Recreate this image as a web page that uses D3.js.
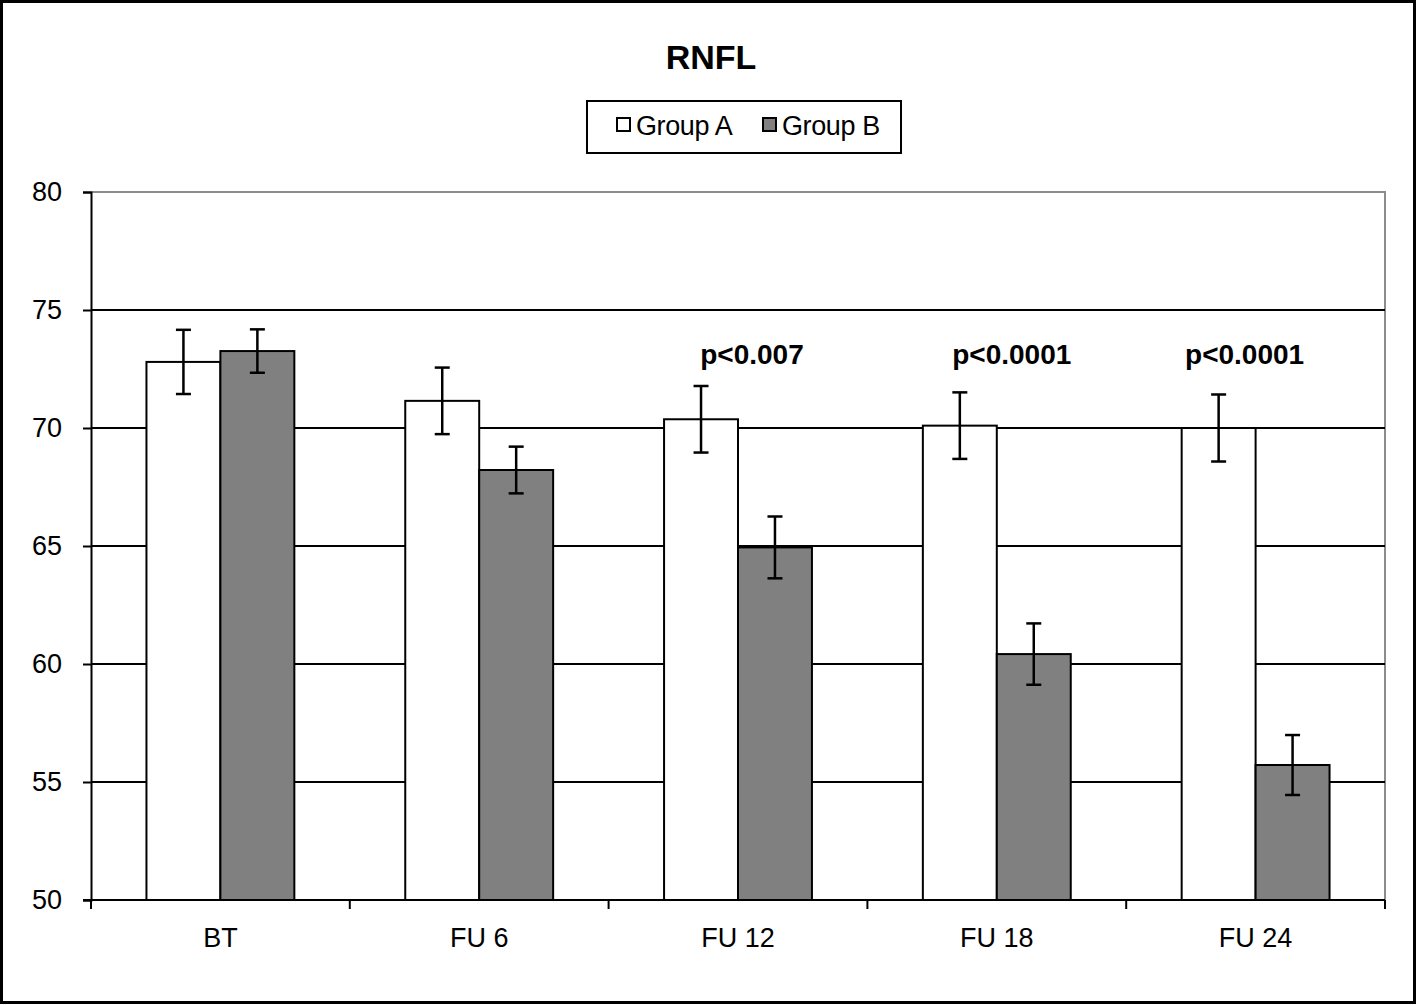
<!DOCTYPE html>
<html lang="en">
<head>
    <meta charset="UTF-8">
    <script src="https://cdnjs.cloudflare.com/ajax/libs/d3/7.8.5/d3.min.js"></script>
    <style>
        html, body {
            margin: 0;
            padding: 0;
            background: #fff;
        }
        svg text {
            font-family: "Liberation Sans", Arial, sans-serif;
            fill: #000;
        }
    </style>
</head>
<body>
<svg id="chart" width="1417" height="1005"></svg>
<script>
    // values
    var categories = ["BT", "FU 6", "FU 12", "FU 18", "FU 24"];
    var groups = ["Group A", "Group B"];
    var groupA = [72.8, 71.15, 70.37, 70.1, 70.0];
    var groupB = [73.26, 68.22, 64.94, 60.42, 55.72];
    var errA = [1.36, 1.41, 1.41, 1.41, 1.42];
    var errB = [0.92, 0.99, 1.31, 1.3, 1.27];
    var yTicks = [50, 55, 60, 65, 70, 75, 80];
    var pLabels = [
        {cat: "FU 12", text: "p<0.007"},
        {cat: "FU 18", text: "p<0.0001"},
        {cat: "FU 24", text: "p<0.0001"}
    ];
    var pNudge = [14, 15, -11];

    var svg = d3.select("#chart");
    var W = 1417, H = 1005;
    // note: "top" is reserved on window, so use plot* names
    var plotL = 91, plotR = 1385, plotT = 192, plotB = 900;

    // outer frame
    svg.append("rect")
        .attr("x", 1.5).attr("y", 1.5)
        .attr("width", W - 4).attr("height", H - 4)
        .attr("fill", "#fff")
        .attr("stroke", "#000")
        .attr("stroke-width", 3);

    var x = d3.scaleBand().domain(categories).range([plotL, plotR]).padding(0);
    var y = d3.scaleLinear().domain([50, 80]).range([plotB, plotT]);
    // gap width 150% like the spreadsheet default
    var barW = x.bandwidth() / 3.5;
    var xg = d3.scaleBand().domain(groups)
        .range([barW * 0.75, barW * 2.75]).padding(0);

    // plot area border (grey on top and right)
    svg.append("path")
        .attr("d", "M" + plotL + "," + plotT + "H" + plotR + "V" + plotB)
        .attr("fill", "none")
        .attr("stroke", "#8c8c8c")
        .attr("stroke-width", 2);

    // gridlines
    svg.append("g").selectAll("line")
        .data(yTicks.filter(function (t) { return t > 50 && t < 80; }))
        .join("line")
        .attr("x1", plotL).attr("x2", plotR)
        .attr("y1", function (d) { return y(d); })
        .attr("y2", function (d) { return y(d); })
        .attr("stroke", "#000")
        .attr("stroke-width", 2);

    // bars
    var rows = categories.map(function (c, i) {
        return [
            {cat: c, g: "Group A", v: groupA[i], e: errA[i]},
            {cat: c, g: "Group B", v: groupB[i], e: errB[i]}
        ];
    });
    var flat = [].concat.apply([], rows);

    svg.append("g").selectAll("rect")
        .data(flat)
        .join("rect")
        .attr("x", function (d) { return x(d.cat) + xg(d.g); })
        .attr("width", xg.bandwidth())
        .attr("y", function (d) { return y(d.v); })
        .attr("height", function (d) { return y(50) - y(d.v); })
        .attr("fill", function (d) { return d.g === "Group A" ? "#fff" : "#808080"; })
        .attr("stroke", "#000")
        .attr("stroke-width", 2);

    // error bars
    var eb = svg.append("g").selectAll("g")
        .data(flat)
        .join("g")
        .attr("transform", function (d) {
            return "translate(" + (x(d.cat) + xg(d.g) + xg.bandwidth() / 2) + ",0)";
        })
        .attr("stroke", "#000")
        .attr("stroke-width", 2.5);
    eb.append("line")
        .attr("y1", function (d) { return y(d.v + d.e); })
        .attr("y2", function (d) { return y(d.v - d.e); });
    eb.append("line")
        .attr("x1", -7.5).attr("x2", 7.5)
        .attr("y1", function (d) { return y(d.v + d.e); })
        .attr("y2", function (d) { return y(d.v + d.e); });
    eb.append("line")
        .attr("x1", -7.5).attr("x2", 7.5)
        .attr("y1", function (d) { return y(d.v - d.e); })
        .attr("y2", function (d) { return y(d.v - d.e); });

    // y axis
    var yAxis = svg.append("g")
        .attr("transform", "translate(" + plotL + ",0)")
        .call(d3.axisLeft(y).tickValues(yTicks).tickSize(8).tickPadding(21));
    yAxis.select(".domain").attr("stroke", "#000").attr("stroke-width", 2);
    yAxis.selectAll(".tick line").attr("stroke", "#000").attr("stroke-width", 2);
    yAxis.selectAll(".tick text")
        .attr("font-size", 27)
        .attr("font-family", "Liberation Sans, Arial, sans-serif")
        .attr("fill", "#000");

    // x axis: ticks sit between categories
    var xAxis = svg.append("g")
        .attr("transform", "translate(0," + plotB + ")");
    xAxis.append("line")
        .attr("x1", plotL - 8).attr("x2", plotR)
        .attr("stroke", "#000").attr("stroke-width", 2);
    var bounds = categories.map(function (c) { return x(c); }).concat([plotR]);
    xAxis.selectAll(".xt")
        .data(bounds)
        .join("line")
        .attr("class", "xt")
        .attr("x1", function (d) { return d; })
        .attr("x2", function (d) { return d; })
        .attr("y1", 0).attr("y2", 9)
        .attr("stroke", "#000").attr("stroke-width", 2);
    xAxis.selectAll("text")
        .data(categories)
        .join("text")
        .attr("x", function (d) { return x(d) + x.bandwidth() / 2; })
        .attr("y", 47)
        .attr("text-anchor", "middle")
        .attr("font-size", 27)
        .text(function (d) { return d; });

    // significance labels
    svg.append("g").selectAll("text")
        .data(pLabels)
        .join("text")
        .attr("x", function (d, i) { return x(d.cat) + x.bandwidth() / 2 + pNudge[i]; })
        .attr("y", y(72.7))
        .attr("text-anchor", "middle")
        .attr("font-size", 28)
        .attr("font-weight", "bold")
        .text(function (d) { return d.text; });

    // title
    svg.append("text")
        .attr("x", 711).attr("y", 69)
        .attr("text-anchor", "middle")
        .attr("font-size", 34)
        .attr("font-weight", "bold")
        .text("RNFL");

    // legend
    var lg = svg.append("g").attr("transform", "translate(587,101)");
    lg.append("rect")
        .attr("width", 314).attr("height", 52)
        .attr("fill", "#fff")
        .attr("stroke", "#000")
        .attr("stroke-width", 2);
    var items = lg.selectAll(".item")
        .data(groups)
        .join("g")
        .attr("class", "item")
        .attr("transform", function (d, i) { return "translate(" + (30 + i * 146) + ",0)"; });
    items.append("rect")
        .attr("x", 0).attr("y", 17)
        .attr("width", 13).attr("height", 13)
        .attr("fill", function (d, i) { return i === 0 ? "#fff" : "#808080"; })
        .attr("stroke", "#000")
        .attr("stroke-width", 2);
    items.append("text")
        .attr("x", 19).attr("y", 34)
        .attr("font-size", 27)
        .attr("letter-spacing", -0.4)
        .text(function (d) { return d; });
</script>
</body>
</html>
